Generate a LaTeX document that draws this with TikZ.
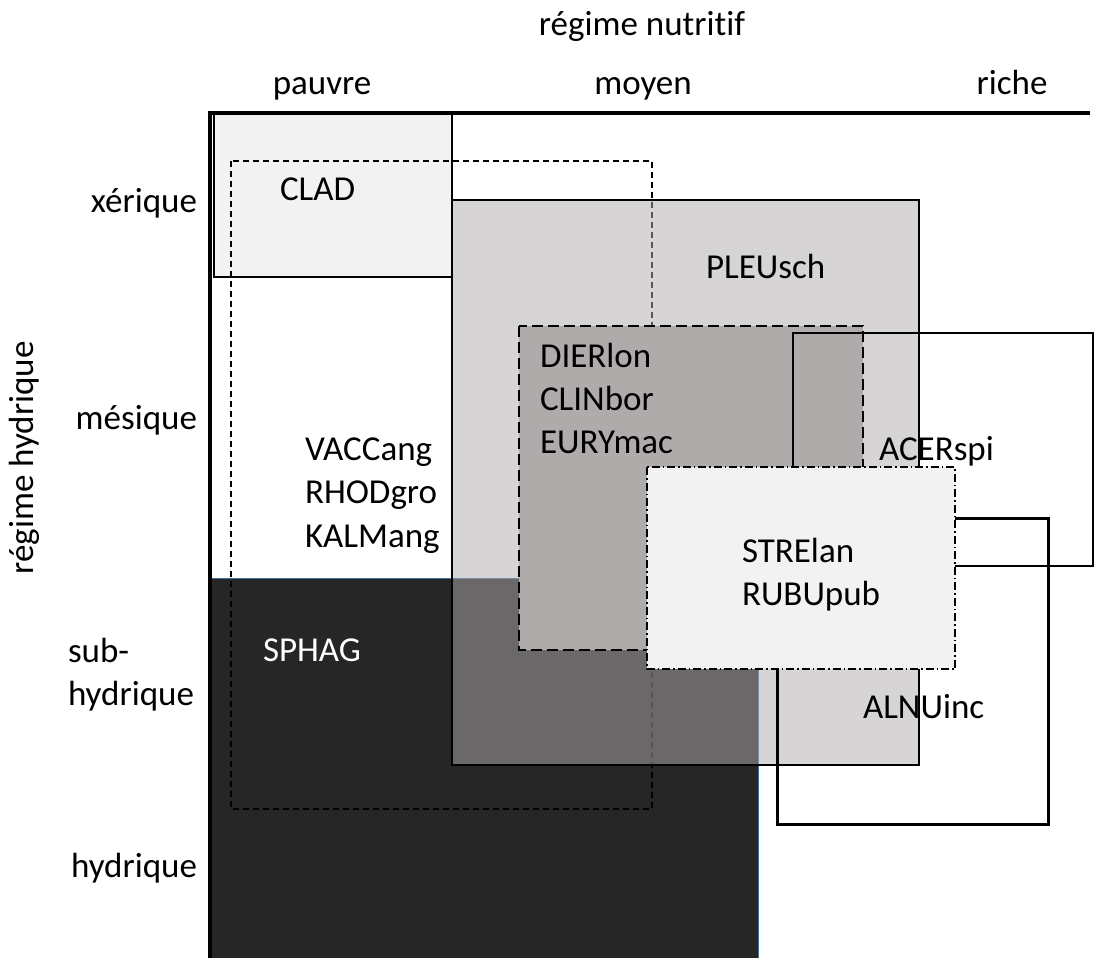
\documentclass[tikz,border=0pt]{standalone}
\usepackage{fontspec}
\setmainfont[Ligatures=NoCommon]{Carlito}
\definecolor{cladfill}{HTML}{F2F2F2}
\definecolor{pleufill}{HTML}{AEABAB}
\definecolor{dierfill}{HTML}{AFABAA}
\definecolor{sphagfill}{HTML}{262626}
\definecolor{sphagline}{HTML}{41719C}
\begin{document}
\begin{tikzpicture}[x=1pt,y=-1pt,
  every node/.style={inner sep=0pt, outer sep=0pt, font=\fontsize{35}{43.5}\selectfont},
  lab/.style={anchor=base west},
  labc/.style={anchor=base},
  labe/.style={anchor=base east},
  frame/.style={draw=black, line width=1.5pt},
  shortdash/.style={dash pattern=on 6pt off 4pt},
  longdash/.style={dash pattern=on 11pt off 5pt},
  dashdot/.style={dash pattern=on 8pt off 3pt on 1.5pt off 3pt}]
\useasboundingbox[fill=white] (0,0) rectangle (1105,965);
% SPHAG zone
\fill[sphagfill] (210,578) rectangle (758,958);
\draw[sphagline, line width=1pt] (210,578) -- (758,578) -- (758,958);
% CLAD zone
\draw[frame, fill=cladfill] (214,113) rectangle (452,277);
% VACCang zone (dashed, no fill)
\draw[frame, shortdash] (231,161) rectangle (652,809);
% PLEUsch zone (semi-transparent)
\fill[pleufill, fill opacity=0.5] (452,200) rectangle (919,765);
\draw[frame] (452,200) rectangle (919,765);
% DIERlon zone
\draw[frame, longdash, fill=dierfill] (519,326) rectangle (863,650);
% ACERspi zone
\draw[draw=black, line width=2pt] (793,333) rectangle (1093,566);
% ALNUinc zone
\draw[draw=black, line width=3pt] (777,518) rectangle (1048,824);
% STRElan zone
\draw[frame, dashdot, fill=cladfill] (647,467) rectangle (955,669);
% axes
\draw[line width=4.5pt] (210,958) -- (210,113) -- (1090,113);
% axis titles and classes
\node[labc] (nutri) at (642,36) {régime nutritif};
\node[labc] (pauvre) at (322,95) {pauvre};
\node[labc] (moyen) at (643,95) {moyen};
\node[labc] (riche) at (1012,95) {riche};
\node[labc, rotate=90] (hydri) at (33,458) {régime hydrique};
\node[labe] (xer) at (197,213) {xérique};
\node[labe] (mes) at (197,429) {mésique};
\node[lab] (sub1) at (68,662) {sub-};
\node[lab] (sub2) at (68,705) {hydrique};
\node[labe] (hyd) at (197,877) {hydrique};
% species labels
\node[lab] (clad) at (280,201) {CLAD};
\node[lab] (pleu) at (706,279) {PLEUsch};
\node[lab] (dier) at (540,367) {DIERlon};
\node[lab] (clin) at (540,410) {CLINbor};
\node[lab] (eury) at (540,453) {EURYmac};
\node[lab] (vacc) at (305,460) {VACCang};
\node[lab] (rhod) at (305,503) {RHODgro};
\node[lab] (kalm) at (305,547) {KALMang};
\node[lab] (acer) at (879,460) {ACERspi};
\node[lab] (stre) at (742,562) {STRElan};
\node[lab] (rubu) at (742,605) {RUBUpub};
\node[lab] (alnu) at (863,718) {ALNUinc};
\node[lab, text=white] (sphag) at (263,661) {SPHAG};
\end{tikzpicture}
\end{document}
